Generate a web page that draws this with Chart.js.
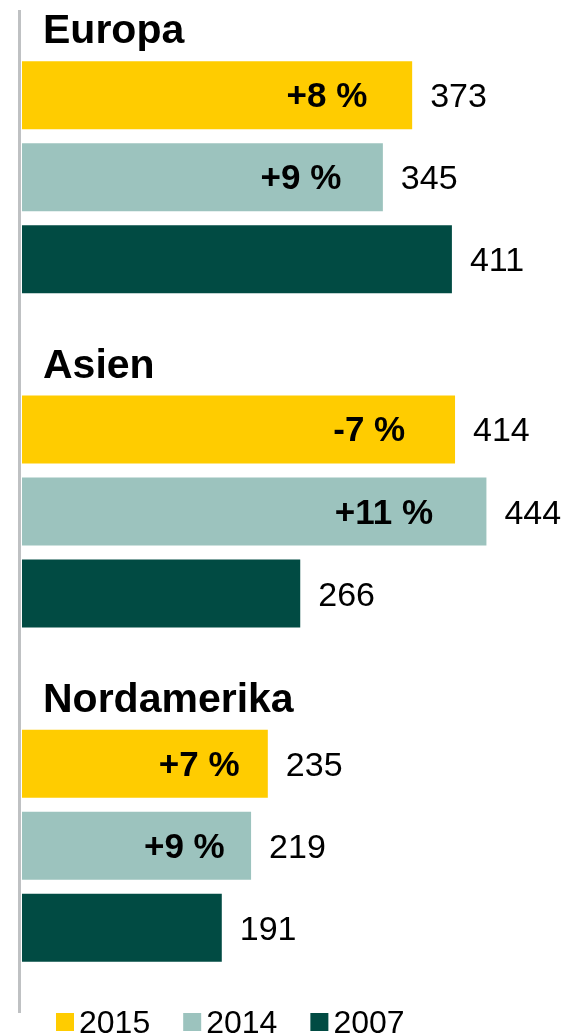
<!DOCTYPE html>
<html>
<head>
<meta charset="utf-8">
<script src="https://cdn.jsdelivr.net/npm/chart.js@4"></script>
<style>
  html, body { margin: 0; padding: 0; background: #fff; }
  canvas { display: block; }
</style>
</head>
<body>
<canvas id="chart" width="573" height="1036"></canvas>
<script>
'use strict'

const regions = ['Europa', 'Asien', 'Nordamerika']
const years = ['2015', '2014', '2007']
const values2015 = [373, 414, 235]
const values2014 = [345, 444, 219]
const values2007 = [411, 266, 191]
const change2015 = ['+8 %', '-7 %', '+7 %']
const change2014 = ['+9 %', '+11 %', '+9 %']

const colors = ['#ffcc00', '#9cc3be', '#014b43']
const FONT = '"Liberation Sans", Arial, sans-serif'

// group titles, value labels, change labels, axis line, legend
const decorations = {
    id: 'decorations',
    afterDatasetsDraw(chart) {
        const ctx = chart.ctx
        const area = chart.chartArea
        const yScale = chart.scales.y
        ctx.save()

        ctx.fillStyle = '#bfc1c3'
        ctx.fillRect(area.left - 4, area.top, 3, area.bottom - area.top)

        ctx.fillStyle = '#000'
        ctx.textBaseline = 'alphabetic'
        ctx.font = 'bold 41px ' + FONT
        ctx.textAlign = 'left'
        regions.forEach((r, i) => {
            ctx.fillText(r, area.left + 21, yScale.getPixelForValue(i) - 134)
        })

        const changes = [change2015, change2014, null]
        chart.data.datasets.forEach((ds, di) => {
            const meta = chart.getDatasetMeta(di)
            meta.data.forEach((bar, i) => {
                ctx.font = '34px ' + FONT
                ctx.textAlign = 'left'
                ctx.fillText(String(ds.data[i]), bar.x + 18, bar.y + 12)
                if (changes[di]) {
                    ctx.font = 'bold 35px ' + FONT
                    ctx.textAlign = 'right'
                    const xEnd = chart.scales.x.getPixelForValue(ds.data[i] * 0.885)
                    ctx.fillText(changes[di][i], xEnd, bar.y + 12)
                }
            })
        })

        // legend
        let x = 56
        ctx.font = '32px ' + FONT
        ctx.textAlign = 'left'
        chart.data.datasets.forEach(ds => {
            ctx.fillStyle = ds.backgroundColor
            ctx.fillRect(x, 1013, 18, 18)
            x += 23
            ctx.fillStyle = '#000'
            ctx.fillText(ds.label, x, 1033)
            x += ctx.measureText(ds.label).width + 33
        })
        ctx.restore()
    }
}

const datasets = [values2015, values2014, values2007].map((vals, i) => ({
    label: years[i],
    data: vals,
    backgroundColor: colors[i],
    borderWidth: 0,
    categoryPercentage: 0.736,
    barPercentage: 0.829
}))

new Chart(document.getElementById('chart'), {
    type: 'bar',
    data: { labels: regions, datasets: datasets },
    options: {
        indexAxis: 'y',
        responsive: false,
        animation: false,
        layout: { padding: { left: 22, top: 10, right: 28, bottom: 23 } },
        scales: {
            x: { display: false, min: 0, max: 500 },
            y: { display: false }
        },
        plugins: {
            legend: { display: false },
            tooltip: { enabled: false }
        }
    },
    plugins: [decorations]
})
</script>
</body>
</html>
